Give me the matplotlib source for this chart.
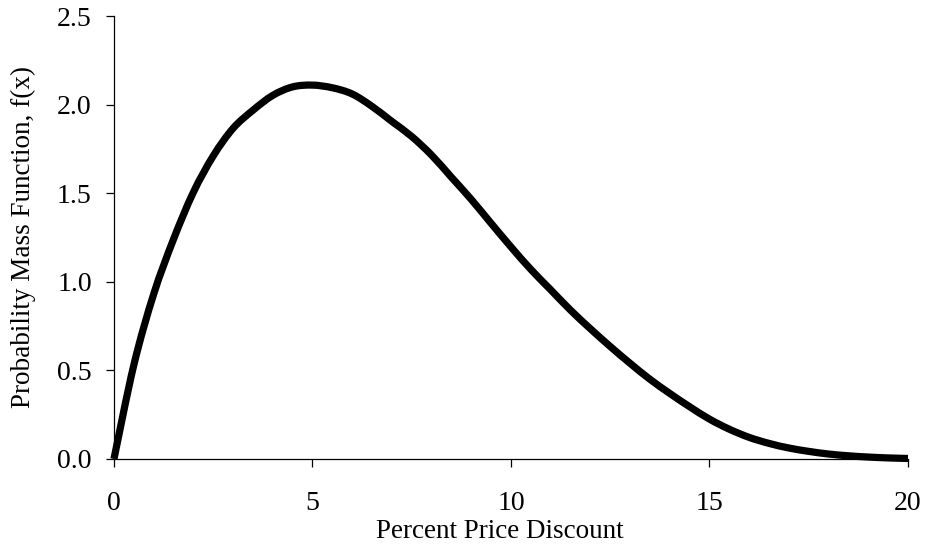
import matplotlib
matplotlib.use("Agg")
import matplotlib.pyplot as plt
from matplotlib.path import Path
from matplotlib.patches import PathPatch

# Percent price discount and the probability mass read at each step
discount = [0.0, 0.5, 1.0, 1.5, 2.0, 2.5, 3.0, 3.5, 4.0, 4.5, 5.0,
            5.5, 6.0, 6.5, 7.0, 7.5, 8.0, 8.5, 9.0, 9.5, 10.0,
            10.5, 11.0, 11.5, 12.0, 12.5, 13.0, 13.5, 14.0, 14.5, 15.0,
            15.5, 16.0, 16.5, 17.0, 17.5, 18.0, 18.5, 19.0, 19.5, 20.0]
pmf = [0.00, 0.53, 0.93, 1.24, 1.505, 1.71, 1.866, 1.968, 2.052, 2.10, 2.11,
       2.095, 2.06, 1.99, 1.905, 1.82, 1.715, 1.59, 1.465, 1.33, 1.197,
       1.07, 0.955, 0.84, 0.735, 0.635, 0.54, 0.45, 0.37, 0.295, 0.225,
       0.168, 0.122, 0.088, 0.062, 0.043, 0.028, 0.018, 0.011, 0.006, 0.003]

x_ticks = [0, 5, 10, 15, 20]
y_ticks = [0.0, 0.5, 1.0, 1.5, 2.0, 2.5]

plt.rcParams["font.family"] = ["Liberation Serif", "DejaVu Serif"]


def smooth_path(xs, ys, tension=1.0 / 6.0):
    """Smoothed line through the points (cubic Bezier segments)."""
    n = len(xs)
    verts = [(xs[0], ys[0])]
    codes = [Path.MOVETO]
    for i in range(n - 1):
        x0, y0 = xs[max(i - 1, 0)], ys[max(i - 1, 0)]
        x1, y1 = xs[i], ys[i]
        x2, y2 = xs[i + 1], ys[i + 1]
        x3, y3 = xs[min(i + 2, n - 1)], ys[min(i + 2, n - 1)]
        c1 = (x1 + (x2 - x0) * tension, y1 + (y2 - y0) * tension)
        c2 = (x2 - (x3 - x1) * tension, y2 - (y3 - y1) * tension)
        verts += [c1, c2, (x2, y2)]
        codes += [Path.CURVE4, Path.CURVE4, Path.CURVE4]
    return Path(verts, codes)


fig = plt.figure(figsize=(9.25, 5.52), dpi=100)
ax = fig.add_axes([0.1232, 0.1685, 0.8584, 0.8025])

ax.add_patch(PathPatch(smooth_path(discount, pmf), facecolor="none",
                       edgecolor="black", lw=5.2, joinstyle="round",
                       capstyle="butt", clip_on=False))

ax.set_xlim(0, 20)
ax.set_ylim(0, 2.5)
ax.set_xticks(x_ticks)
ax.set_yticks(y_ticks)
ax.set_xticklabels([str(v) for v in x_ticks])
ax.set_yticklabels([f"{v:.1f}" for v in y_ticks])

for side in ("top", "right"):
    ax.spines[side].set_visible(False)
for side in ("left", "bottom"):
    ax.spines[side].set_linewidth(0.9)
    ax.spines[side].set_color("black")

ax.tick_params(axis="x", direction="out", length=6, width=0.9,
               pad=17, labelsize=20, colors="black")
ax.tick_params(axis="y", direction="out", length=6, width=0.9,
               pad=10, labelsize=20, colors="black")

ax.set_xlabel("Percent Price Discount", fontsize=19.5)
ax.set_ylabel("Probability Mass Function, f(x)", fontsize=19.5)
ax.xaxis.set_label_coords(0.486, -0.135)
ax.yaxis.set_label_coords(-0.098, 0.5)

fig.savefig("out.png", dpi=100, facecolor="white")
